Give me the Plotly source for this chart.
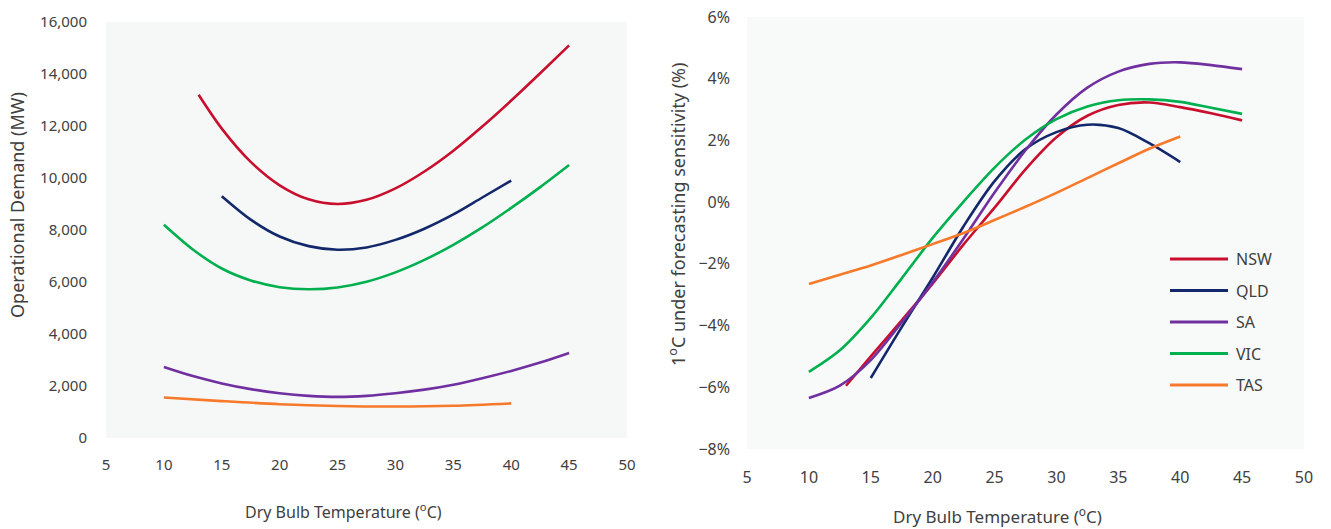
import plotly.graph_objects as go

# Operational demand (MW) by dry bulb temperature (°C)
nsw_t = [13, 15, 17.5, 20, 22.5, 25, 27.5, 30, 32.5, 35, 37.5, 40, 42.5, 45]
nsw_mw = [13200, 11900, 10620, 9720, 9180, 9000, 9160, 9600, 10250, 11050, 11980, 12980, 14030, 15100]
qld_t = [15, 17.5, 20, 22.5, 25, 27.5, 30, 32.5, 35, 37.5, 40]
qld_mw = [9300, 8400, 7750, 7380, 7240, 7330, 7620, 8050, 8600, 9250, 9900]
sa_t = [10, 12.5, 15, 17.5, 20, 22.5, 25, 27.5, 30, 32.5, 35, 37.5, 40, 42.5, 45]
sa_mw = [2730, 2380, 2100, 1880, 1720, 1620, 1580, 1620, 1720, 1860, 2050, 2300, 2580, 2900, 3270]
vic_t = [10, 12.5, 15, 17.5, 20, 22.5, 25, 27.5, 30, 32.5, 35, 37.5, 40, 42.5, 45]
vic_mw = [8200, 7250, 6520, 6060, 5800, 5720, 5790, 6010, 6370, 6850, 7430, 8100, 8850, 9650, 10500]
tas_t = [10, 15, 20, 25, 30, 35, 40]
tas_mw = [1560, 1420, 1300, 1230, 1210, 1240, 1330]

# 1°C under-forecasting sensitivity (%)
nsw_st = [13, 15, 17.5, 20, 22.5, 25, 27.5, 30, 32.5, 35, 37.5, 40, 42.5, 45]
nsw_sens = [-5.95, -5.0, -3.83, -2.64, -1.37, -0.18, 1.06, 2.1, 2.8, 3.15, 3.23, 3.08, 2.88, 2.65]
qld_st = [15, 17.5, 20, 22.5, 25, 27.5, 30, 32.5, 35, 37.5, 40]
qld_sens = [-5.7, -4.05, -2.45, -0.78, 0.68, 1.72, 2.27, 2.51, 2.40, 1.91, 1.30]
sa_st = [10, 12.5, 15, 17.5, 20, 22.5, 25, 27.5, 30, 32.5, 35, 37.5, 40, 42.5, 45]
sa_sens = [-6.35, -5.95, -5.12, -3.9, -2.6, -1.18, 0.31, 1.68, 2.84, 3.71, 4.23, 4.48, 4.53, 4.44, 4.31]
vic_st = [10, 12.5, 15, 17.5, 20, 22.5, 25, 27.5, 30, 32.5, 35, 37.5, 40, 42.5, 45]
vic_sens = [-5.5, -4.8, -3.75, -2.47, -1.16, 0.02, 1.12, 2.03, 2.69, 3.10, 3.30, 3.33, 3.25, 3.06, 2.86]
tas_st = [10, 12.5, 15, 17.5, 20, 22.5, 25, 27.5, 30, 32.5, 35, 37.5, 40]
tas_sens = [-2.65, -2.35, -2.05, -1.71, -1.36, -1.0, -0.58, -0.15, 0.3, 0.78, 1.26, 1.73, 2.13]

regions = ["NSW", "QLD", "SA", "VIC", "TAS"]
colors = {"NSW": "#c8102e", "QLD": "#13286b", "SA": "#7030a0",
          "VIC": "#00b04f", "TAS": "#f7792a"}

demand = {"NSW": (nsw_t, nsw_mw), "QLD": (qld_t, qld_mw), "SA": (sa_t, sa_mw),
          "VIC": (vic_t, vic_mw), "TAS": (tas_t, tas_mw)}
sens = {"NSW": (nsw_st, nsw_sens), "QLD": (qld_st, qld_sens), "SA": (sa_st, sa_sens),
        "VIC": (vic_st, vic_sens), "TAS": (tas_st, tas_sens)}

x_ticks = [5, 10, 15, 20, 25, 30, 35, 40, 45, 50]
demand_ticks = list(range(0, 16001, 2000))
sens_ticks = [-8, -6, -4, -2, 0, 2, 4, 6]

W, H = 1331, 529
FONT = "Noto Sans, Open Sans, sans-serif"
TXT = "#404040"

fig = go.Figure()

for r in regions:
    t, v = demand[r]
    fig.add_trace(go.Scatter(x=t, y=v, mode="lines", name=r, showlegend=False,
                             line=dict(color=colors[r], width=2.6, shape="spline", smoothing=0.9),
                             xaxis="x", yaxis="y"))

for r in regions:
    t, v = sens[r]
    fig.add_trace(go.Scatter(x=t, y=[s / 100 for s in v], mode="lines", name=r,
                             showlegend=False,
                             line=dict(color=colors[r], width=2.6, shape="spline", smoothing=0.9),
                             xaxis="x2", yaxis="y2"))

# zero reference line on the sensitivity panel
fig.add_shape(type="line", xref="x2 domain", yref="y2", x0=0, x1=1, y0=0, y1=0,
              line=dict(color="#8197c0", width=2.5, dash="10px,8px"), layer="below")


def axis(size, **kw):
    return dict(showgrid=False, zeroline=False, showline=False, automargin=False,
                tickfont=dict(family=FONT, size=size, color=TXT), ticks="", **kw)


fig.update_layout(
    template="none",
    width=W, height=H,
    margin=dict(l=0, r=0, t=0, b=0, autoexpand=False),
    paper_bgcolor="white",
    plot_bgcolor="rgba(0,0,0,0)",
    font=dict(family=FONT, color=TXT),
    showlegend=False,
    xaxis=axis(15, domain=[106 / W, 627 / W], range=[5, 50], tickvals=x_ticks,
               ticklabelstandoff=16, anchor="y"),
    yaxis=axis(15, domain=[(H - 438) / H, (H - 22) / H], range=[0, 16000],
               tickvals=demand_ticks, tickformat=",d", ticklabelstandoff=18, anchor="x"),
    xaxis2=axis(16, domain=[747 / W, 1304 / W], range=[5, 50], tickvals=x_ticks,
                ticklabelstandoff=17, anchor="y2"),
    yaxis2=axis(16, domain=[(H - 449) / H, (H - 17) / H], range=[-0.08, 0.06],
                tickvals=[s / 100 for s in sens_ticks], tickformat=".0%",
                ticklabelstandoff=16, anchor="x2"),
)

# panel backgrounds
fig.add_shape(type="rect", xref="x domain", yref="y domain", x0=0, x1=1, y0=0, y1=1,
              fillcolor="#f6f8f8", line=dict(width=0), layer="below")
fig.add_shape(type="rect", xref="x2 domain", yref="y2 domain", x0=0, x1=1, y0=0, y1=1,
              fillcolor="#f8f9f9", line=dict(width=0), layer="below")

# key for the sensitivity panel
key_x0, key_x1, key_text_x = 1170, 1228, 1234
key_top, key_step = 259, 31.5
for i, r in enumerate(regions):
    ky = (H - (key_top + i * key_step)) / H
    fig.add_shape(type="line", xref="paper", yref="paper",
                  x0=key_x0 / W, x1=key_x1 / W, y0=ky, y1=ky,
                  line=dict(color=colors[r], width=2.8))
    fig.add_annotation(text=r, xref="paper", yref="paper", x=key_text_x / W, y=ky,
                       xanchor="left", yanchor="middle", showarrow=False,
                       font=dict(family=FONT, size=16, color=TXT))

# axis titles
titles = [
    dict(text="Operational Demand (MW)", x=17, y=205, angle=-90, size=18),
    dict(text="1<sup>o</sup>C under forecasting sensitivity (%)", x=677, y=215, angle=-90, size=18),
    dict(text="Dry Bulb Temperature (<sup>o</sup>C)", x=343, y=511, angle=0, size=16),
    dict(text="Dry Bulb Temperature (<sup>o</sup>C)", x=997, y=515, angle=0, size=17),
]
for t in titles:
    fig.add_annotation(text=t["text"], xref="paper", yref="paper",
                       x=t["x"] / W, y=(H - t["y"]) / H, xanchor="center", yanchor="middle",
                       textangle=t["angle"], showarrow=False,
                       font=dict(family=FONT, size=t["size"], color=TXT))

fig.write_html("out.html")
